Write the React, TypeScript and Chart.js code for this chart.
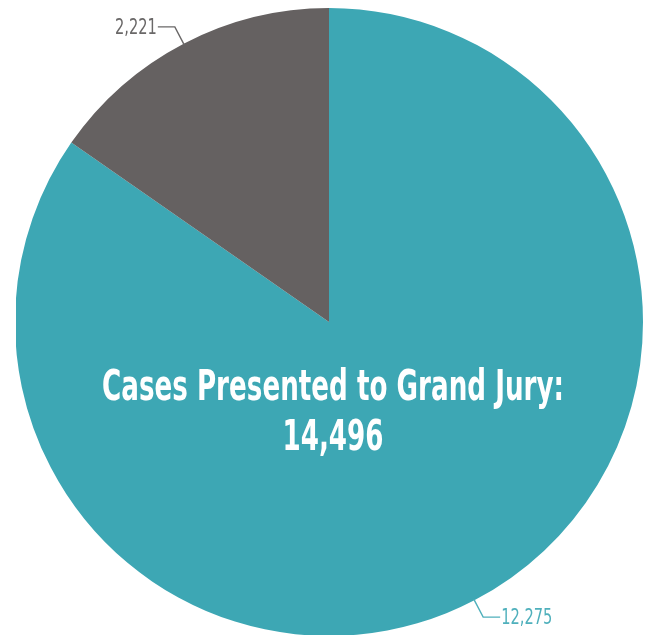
import React, { useEffect, useRef } from "react";
import { Chart, registerables } from "chart.js";

Chart.register(...registerables);

const categories = ["Indicted", "Not Indicted"];
const seriesValues = [12275, 2221];
const sliceColors = ["#3da7b4", "#656161"];
const labelColors = ["#4fb0bc", "#6a6868"];
const centerTitle = "Cases Presented to Grand Jury:";

const FONT_STACK = '"Liberation Sans Narrow", "DejaVu Sans Condensed", "Roboto Condensed", "Liberation Sans", sans-serif';

const fmt = (v: number) => v.toLocaleString("en-US");

const overlayPlugin = {
  id: "overlay",
  afterDatasetsDraw(chart: any) {
    const ctx = chart.ctx as CanvasRenderingContext2D;
    const meta = chart.getDatasetMeta(0);
    const data = chart.data.datasets[0].data as number[];
    const total = data.reduce((a, b) => a + b, 0);

    meta.data.forEach((arc: any, i: number) => {
      const p = arc.getProps(["x", "y", "startAngle", "endAngle", "outerRadius"], true);
      const mid = (p.startAngle + p.endAngle) / 2;
      const ux = Math.cos(mid);
      const uy = Math.sin(mid);
      const ex = p.x + ux * (p.outerRadius - 1);
      const ey = p.y + uy * (p.outerRadius - 1);
      const bx = p.x + ux * (p.outerRadius + 19);
      const by = p.y + uy * (p.outerRadius + 19);
      const dir = ux < 0 ? -1 : 1;
      const hx = bx + dir * 17;
      ctx.save();
      ctx.strokeStyle = labelColors[i];
      ctx.lineWidth = 1.4;
      ctx.beginPath();
      ctx.moveTo(ex, ey);
      ctx.lineTo(bx, by);
      ctx.lineTo(hx, by);
      ctx.stroke();
      ctx.fillStyle = labelColors[i];
      ctx.font = `22px ${FONT_STACK}`;
      ctx.textBaseline = "middle";
      const txt = fmt(data[i]);
      ctx.translate(hx + dir * 1, by + 1);
      ctx.scale(0.74, 1);
      ctx.textAlign = dir < 0 ? "right" : "left";
      ctx.fillText(txt, 0, 0);
      ctx.restore();
    });

    const a0 = meta.data[0];
    const cx = a0.x + 4;
    const cy = a0.y;
    ctx.save();
    ctx.fillStyle = "#ffffff";
    ctx.font = `bold 43px ${FONT_STACK}`;
    ctx.textAlign = "center";
    ctx.textBaseline = "alphabetic";
    const w = ctx.measureText(centerTitle).width;
    const scale = 462 / w;
    ctx.translate(cx, 0);
    ctx.scale(scale, 1);
    ctx.fillText(centerTitle, 0, cy + 78);
    ctx.fillText(fmt(total), 0, cy + 128);
    ctx.restore();
  },
};

export default function App() {
  const ref = useRef<HTMLCanvasElement>(null);
  useEffect(() => {
    if (!ref.current) return;
    const chart = new Chart(ref.current, {
      type: "pie",
      data: {
        labels: categories,
        datasets: [
          {
            data: seriesValues,
            backgroundColor: sliceColors,
            borderWidth: 0,
          },
        ],
      },
      options: {
        animation: false,
        responsive: false,
        maintainAspectRatio: false,
        layout: { padding: { left: 15, right: 8, top: 8, bottom: 24 } },
        plugins: {
          legend: { display: false },
          tooltip: { enabled: false },
          title: { display: false },
        },
      },
      plugins: [overlayPlugin],
    });
    return () => chart.destroy();
  }, []);
  return (
    <div style={{ position: "fixed", left: 0, top: 0, width: 651, height: 635, overflow: "hidden", background: "#fff" }}>
      <div style={{ position: "absolute", left: 16, top: 0, width: 635, height: 635, overflow: "hidden" }}>
        <canvas ref={ref} width={651} height={660} style={{ position: "absolute", left: -16, top: 0, width: 651, height: 660 }} />
      </div>
    </div>
  );
}
